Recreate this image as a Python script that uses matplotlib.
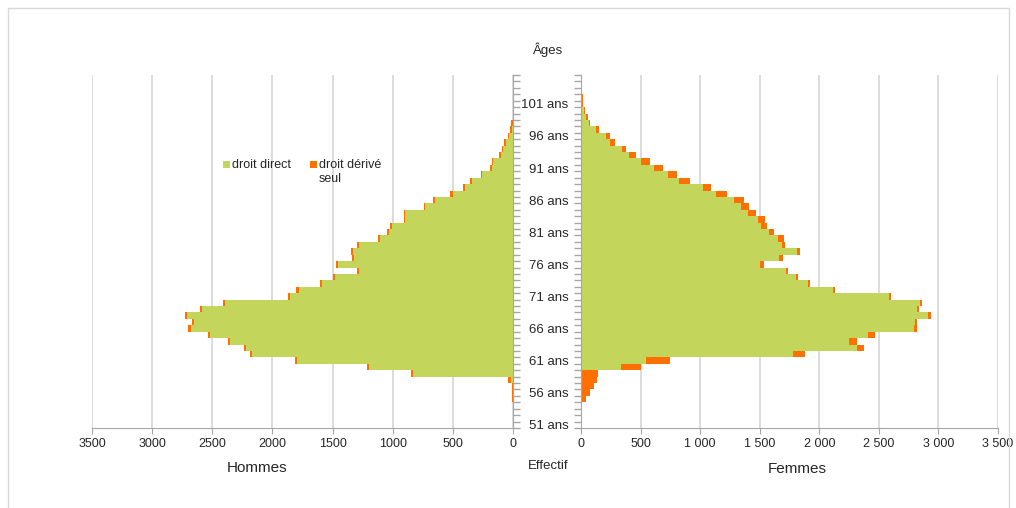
import matplotlib
matplotlib.use("Agg")
import matplotlib.pyplot as plt
from matplotlib.patches import Rectangle
from matplotlib.ticker import FixedLocator

plt.rcParams['font.family'] = ['Liberation Sans', 'DejaVu Sans']

# ---- data -------------------------------------------------------------
ages = list(range(51, 106))

hommes_direct = [0, 0, 0, 0, 0, 0, 0, 20, 833, 1194,
                 1792, 2172, 2217, 2356, 2522, 2681, 2650, 2711, 2583, 2397,
                 1856, 1783, 1589, 1481, 1281, 1458, 1325, 1331, 1281, 1106,
                 1031, 1006, 894, 894, 730, 652, 501, 401, 345, 256,
                 178, 164, 103, 81, 61, 33, 11, 0, 0, 0,
                 0, 0, 0, 0, 0]
hommes_derive = [0, 0, 0, 0, 10, 10, 10, 22, 17, 22,
                 19, 17, 17, 17, 17, 17, 17, 17, 19, 17,
                 17, 17, 17, 14, 14, 14, 14, 14, 14, 17,
                 17, 14, 14, 14, 14, 14, 22, 14, 14, 14,
                 14, 14, 14, 12, 12, 12, 12, 14, 0, 0,
                 0, 0, 0, 0, 0]
femmes_direct = [0, 0, 0, 0, 0, 0, 0, 0, 0, 335,
                 549, 1779, 2314, 2252, 2412, 2798, 2804, 2916, 2818, 2849,
                 2581, 2117, 1903, 1807, 1720, 1506, 1664, 1813, 1686, 1652,
                 1579, 1512, 1489, 1405, 1343, 1287, 1137, 1025, 822, 732,
                 611, 507, 405, 343, 245, 214, 129, 65, 42, 22,
                 8, 6, 0, 0, 0]
femmes_derive = [0, 0, 0, 0, 45, 76, 110, 138, 146, 169,
                 194, 104, 65, 62, 53, 20, 20, 22, 22, 17,
                 20, 17, 17, 17, 17, 28, 28, 22, 28, 53,
                 42, 53, 56, 65, 70, 84, 90, 70, 93, 70,
                 76, 76, 59, 34, 37, 31, 25, 14, 14, 11,
                 8, 8, 8, 6, 0]

label_ages = [51, 56, 61, 66, 71, 76, 81, 86, 91, 96, 101]
age_labels = ["51 ans", "56 ans", "61 ans", "66 ans", "71 ans", "76 ans",
              "81 ans", "86 ans", "91 ans", "96 ans", "101 ans"]
x_ticks = [0, 500, 1000, 1500, 2000, 2500, 3000, 3500]
left_tick_labels = ["0", "500", "1000", "1500", "2000", "2500", "3000", "3500"]
right_tick_labels = ["0", "500", "1 000", "1 500", "2 000", "2 500", "3 000", "3 500"]

series_names = ["droit direct", "droit dérivé\nseul"]
GREEN = "#C3D55B"
ORANGE = "#FF7000"
GRID = "#D9D9D9"
AXIS = "#A6A6A6"
TXT = "#262626"

# ---- figure -----------------------------------------------------------
W, H = 1016, 508
fig = plt.figure(figsize=(W / 100, H / 100), dpi=100)

def fx(px):
    return px / W

def fy(py):
    return 1 - py / H

top, bottom = 75, 428
axL = fig.add_axes([fx(92), fy(bottom), fx(513) - fx(92), fy(top) - fy(bottom)])
axR = fig.add_axes([fx(581), fy(bottom), fx(998) - fx(581), fy(top) - fy(bottom)])

for ax, d, r in ((axL, hommes_direct, hommes_derive), (axR, femmes_direct, femmes_derive)):
    ax.barh(ages, d, height=1.0, color=GREEN, linewidth=0, label=series_names[0], zorder=2)
    ax.barh(ages, r, height=1.0, left=d, color=ORANGE, linewidth=0, label=series_names[1], zorder=2)
    ax.set_ylim(50.5, 105.5)
    ax.set_xticks(x_ticks)
    ax.xaxis.grid(True, color=GRID, linewidth=1.3, zorder=0)
    ax.set_axisbelow(True)
    ax.spines['top'].set_visible(False)
    ax.spines['bottom'].set_color(AXIS)
    ax.tick_params(axis='x', direction='out', length=4, color=AXIS,
                   labelsize=9, labelcolor=TXT, pad=3)
    ax.yaxis.set_minor_locator(FixedLocator([a + 0.5 for a in range(50, 106)]))
    ax.tick_params(axis='y', which='minor', direction='out', length=5, color=AXIS, width=1)

axL.set_xlim(3500, 0)
axL.set_xticklabels(left_tick_labels)
axL.spines['left'].set_visible(False)
axL.spines['right'].set_color(AXIS)
axL.yaxis.tick_right()
axL.set_yticks(label_ages)
axL.set_yticklabels([])
axL.tick_params(axis='y', which='major', length=0)

axR.set_xlim(0, 3500)
axR.set_xticklabels(right_tick_labels)
axR.spines['right'].set_visible(False)
axR.spines['left'].set_color(AXIS)
axR.set_yticks(label_ages)
axR.set_yticklabels(age_labels)
axR.tick_params(axis='y', which='major', length=0, pad=9, labelsize=9.5, labelcolor=TXT)

# ---- texts ------------------------------------------------------------
fig.text(fx(548), fy(50), "Âges", ha='center', va='center', fontsize=9.5, color=TXT)
fig.text(fx(257), fy(468), "Hommes", ha='center', va='center', fontsize=11, color=TXT)
fig.text(fx(548), fy(466), "Effectif", ha='center', va='center', fontsize=9.5, color=TXT)
fig.text(fx(797), fy(469), "Femmes", ha='center', va='center', fontsize=11, color=TXT)

# ---- legend (drawn by hand to mimic the original layout) ---------------
sq = 7
fig.add_artist(Rectangle((fx(223), fy(168)), fx(sq), sq / H, transform=fig.transFigure,
                         facecolor=GREEN, edgecolor='none'))
fig.text(fx(232), fy(164.5), series_names[0], ha='left', va='center', fontsize=9, color=TXT)
fig.add_artist(Rectangle((fx(310), fy(168)), fx(sq), sq / H, transform=fig.transFigure,
                         facecolor=ORANGE, edgecolor='none'))
fig.text(fx(319), fy(159), series_names[1], ha='left', va='top', fontsize=9, color=TXT,
         linespacing=1.25)

# ---- outer frame ------------------------------------------------------
fig.add_artist(Rectangle((fx(8), -0.05), fx(1009) - fx(8), fy(8) + 0.05, transform=fig.transFigure,
                         facecolor='none', edgecolor=GRID, linewidth=1))

fig.savefig("out.png", dpi=100)
